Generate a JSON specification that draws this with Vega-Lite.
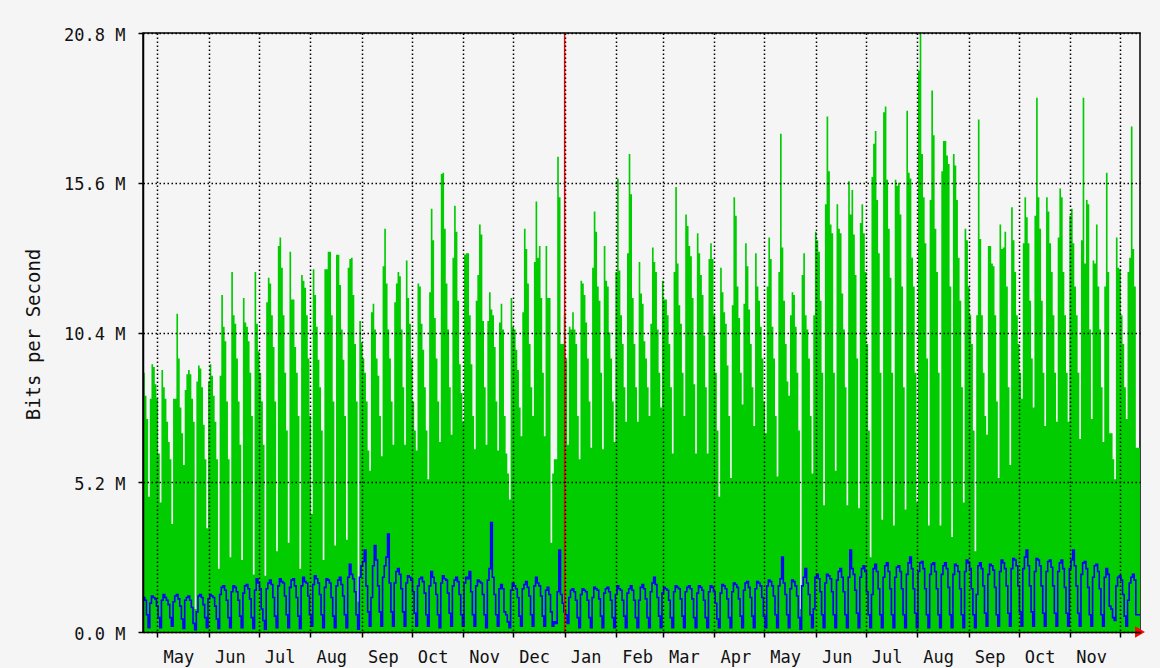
{
"$schema": "https://vega.github.io/schema/vega-lite/v6.json",
"width": 997,
"height": 599,
"autosize": {"type": "none"},
"padding": {"left": 143, "top": 33, "right": 20, "bottom": 36},
"background": "#f5f5f5",
"config": {"view": {"stroke": "#000000", "strokeWidth": 1.5, "fill": "#f5f5f5"}, "font": "DejaVu Sans Mono"},
"data": {"values": [
{"d":"2009-04-22","g":8.8,"b":1.2},
{"d":"2009-04-23","g":9.0,"b":1.2},{"d":"2009-04-24","g":8.2,"b":1.1},{"d":"2009-04-25","g":7.4,"b":0.6},{"d":"2009-04-26","g":4.7,"b":0.15},
{"d":"2009-04-27","g":8.1,"b":1.0},{"d":"2009-04-28","g":9.3,"b":1.25},{"d":"2009-04-29","g":9.2,"b":1.2},{"d":"2009-04-30","g":8.6,"b":1.15},{"d":"2009-05-01","g":8.1,"b":0.9},{"d":"2009-05-02","g":6.2,"b":0.5},{"d":"2009-05-03","g":4.5,"b":0.15},
{"d":"2009-05-04","g":9.1,"b":1.1},{"d":"2009-05-05","g":8.5,"b":1.3},{"d":"2009-05-06","g":8.1,"b":1.2},{"d":"2009-05-07","g":7.3,"b":1.1},{"d":"2009-05-08","g":6.6,"b":0.95},{"d":"2009-05-09","g":6.0,"b":0.5},{"d":"2009-05-10","g":3.75,"b":0.2},
{"d":"2009-05-11","g":8.1,"b":1.05},{"d":"2009-05-12","g":8.1,"b":1.25},{"d":"2009-05-13","g":11.05,"b":1.3},{"d":"2009-05-14","g":9.5,"b":1.15},{"d":"2009-05-15","g":7.8,"b":0.9},{"d":"2009-05-16","g":6.9,"b":0.45},{"d":"2009-05-17","g":5.8,"b":0.12},
{"d":"2009-05-18","g":8.4,"b":1.1},{"d":"2009-05-19","g":8.95,"b":1.2},{"d":"2009-05-20","g":9.1,"b":1.25},{"d":"2009-05-21","g":8.95,"b":1.1},{"d":"2009-05-22","g":8.1,"b":0.85},{"d":"2009-05-23","g":7.3,"b":0.3},{"d":"2009-05-24","g":0.8,"b":0.08},
{"d":"2009-05-25","g":8.7,"b":0.7},{"d":"2009-05-26","g":9.25,"b":1.25},{"d":"2009-05-27","g":9.15,"b":1.3},{"d":"2009-05-28","g":8.5,"b":1.2},{"d":"2009-05-29","g":7.2,"b":0.95},{"d":"2009-05-30","g":6.0,"b":0.5},{"d":"2009-05-31","g":3.6,"b":0.15},
{"d":"2009-06-01","g":8.7,"b":1.15},{"d":"2009-06-02","g":9.3,"b":1.3},{"d":"2009-06-03","g":8.9,"b":1.25},{"d":"2009-06-04","g":8.2,"b":1.2},{"d":"2009-06-05","g":7.3,"b":0.9},{"d":"2009-06-06","g":6.0,"b":0.45},{"d":"2009-06-07","g":2.2,"b":0.12},
{"d":"2009-06-08","g":8.9,"b":1.3},{"d":"2009-06-09","g":11.7,"b":1.55},{"d":"2009-06-10","g":10.6,"b":1.6},{"d":"2009-06-11","g":10.1,"b":1.45},{"d":"2009-06-12","g":8.0,"b":1.1},{"d":"2009-06-13","g":6.0,"b":0.5},{"d":"2009-06-14","g":2.6,"b":0.15},
{"d":"2009-06-15","g":12.5,"b":1.4},{"d":"2009-06-16","g":11.0,"b":1.6},{"d":"2009-06-17","g":10.7,"b":1.55},{"d":"2009-06-18","g":9.5,"b":1.4},{"d":"2009-06-19","g":8.0,"b":1.1},{"d":"2009-06-20","g":6.5,"b":0.55},{"d":"2009-06-21","g":2.5,"b":0.15},
{"d":"2009-06-22","g":11.6,"b":1.35},{"d":"2009-06-23","g":10.75,"b":1.6},{"d":"2009-06-24","g":10.6,"b":1.65},{"d":"2009-06-25","g":10.1,"b":1.5},{"d":"2009-06-26","g":9.0,"b":1.15},{"d":"2009-06-27","g":7.5,"b":0.5},{"d":"2009-06-28","g":2.0,"b":0.12},
{"d":"2009-06-29","g":12.5,"b":1.45},{"d":"2009-06-30","g":10.7,"b":1.85},{"d":"2009-07-01","g":9.75,"b":1.7},{"d":"2009-07-02","g":9.0,"b":1.5},{"d":"2009-07-03","g":8.0,"b":0.8},{"d":"2009-07-04","g":6.5,"b":0.4},{"d":"2009-07-05","g":1.95,"b":0.1},
{"d":"2009-07-06","g":11.45,"b":1.5},{"d":"2009-07-07","g":12.3,"b":1.7},{"d":"2009-07-08","g":12.1,"b":1.8},{"d":"2009-07-09","g":11.0,"b":1.65},{"d":"2009-07-10","g":9.9,"b":1.2},{"d":"2009-07-11","g":8.0,"b":0.55},{"d":"2009-07-12","g":2.8,"b":0.15},
{"d":"2009-07-13","g":13.4,"b":1.6},{"d":"2009-07-14","g":13.7,"b":1.85},{"d":"2009-07-15","g":12.65,"b":1.75},{"d":"2009-07-16","g":11.0,"b":1.7},{"d":"2009-07-17","g":9.0,"b":1.25},{"d":"2009-07-18","g":7.0,"b":0.6},{"d":"2009-07-19","g":3.1,"b":0.15},
{"d":"2009-07-20","g":13.2,"b":1.55},{"d":"2009-07-21","g":11.55,"b":1.8},{"d":"2009-07-22","g":11.55,"b":1.85},{"d":"2009-07-23","g":9.9,"b":1.6},{"d":"2009-07-24","g":9.0,"b":1.2},{"d":"2009-07-25","g":7.5,"b":0.55},{"d":"2009-07-26","g":2.2,"b":0.12},
{"d":"2009-07-27","g":12.4,"b":1.6},{"d":"2009-07-28","g":12.2,"b":1.9},{"d":"2009-07-29","g":11.95,"b":1.75},{"d":"2009-07-30","g":11.0,"b":1.7},{"d":"2009-07-31","g":9.5,"b":1.25},{"d":"2009-08-01","g":7.5,"b":0.6},{"d":"2009-08-02","g":4.1,"b":0.2},
{"d":"2009-08-03","g":12.6,"b":1.65},{"d":"2009-08-04","g":11.7,"b":1.95},{"d":"2009-08-05","g":10.6,"b":1.85},{"d":"2009-08-06","g":9.45,"b":1.7},{"d":"2009-08-07","g":8.5,"b":1.3},{"d":"2009-08-08","g":7.0,"b":0.6},{"d":"2009-08-09","g":2.5,"b":0.15},
{"d":"2009-08-10","g":12.6,"b":1.55},{"d":"2009-08-11","g":12.6,"b":1.85},{"d":"2009-08-12","g":13.2,"b":1.8},{"d":"2009-08-13","g":13.2,"b":1.7},{"d":"2009-08-14","g":11.0,"b":1.2},{"d":"2009-08-15","g":8.0,"b":0.55},{"d":"2009-08-16","g":3.0,"b":0.15},
{"d":"2009-08-17","g":13.1,"b":1.6},{"d":"2009-08-18","g":13.1,"b":1.8},{"d":"2009-08-19","g":12.05,"b":1.9},{"d":"2009-08-20","g":10.5,"b":1.65},{"d":"2009-08-21","g":9.45,"b":1.25},{"d":"2009-08-22","g":7.5,"b":0.6},{"d":"2009-08-23","g":3.2,"b":0.15},
{"d":"2009-08-24","g":12.65,"b":1.9},{"d":"2009-08-25","g":12.95,"b":2.35},{"d":"2009-08-26","g":13.0,"b":2.0},{"d":"2009-08-27","g":11.7,"b":1.85},{"d":"2009-08-28","g":10.0,"b":1.4},{"d":"2009-08-29","g":8.0,"b":0.6},{"d":"2009-08-30","g":1.05,"b":0.1},
{"d":"2009-08-31","g":10.8,"b":1.9},{"d":"2009-09-01","g":10.05,"b":2.3},{"d":"2009-09-02","g":9.5,"b":2.45},{"d":"2009-09-03","g":9.0,"b":2.85},{"d":"2009-09-04","g":8.0,"b":1.6},{"d":"2009-09-05","g":6.3,"b":0.7},{"d":"2009-09-06","g":5.6,"b":0.2},
{"d":"2009-09-07","g":11.1,"b":1.2},{"d":"2009-09-08","g":11.4,"b":2.3},{"d":"2009-09-09","g":10.5,"b":3.0},{"d":"2009-09-10","g":9.5,"b":2.5},{"d":"2009-09-11","g":8.9,"b":1.6},{"d":"2009-09-12","g":7.5,"b":0.7},{"d":"2009-09-13","g":6.1,"b":0.2},
{"d":"2009-09-14","g":12.7,"b":1.9},{"d":"2009-09-15","g":14.0,"b":2.3},{"d":"2009-09-16","g":12.1,"b":2.6},{"d":"2009-09-17","g":10.5,"b":3.4},{"d":"2009-09-18","g":9.5,"b":1.7},{"d":"2009-09-19","g":8.0,"b":0.7},{"d":"2009-09-20","g":6.5,"b":0.2},
{"d":"2009-09-21","g":11.45,"b":1.7},{"d":"2009-09-22","g":12.1,"b":2.1},{"d":"2009-09-23","g":12.5,"b":2.2},{"d":"2009-09-24","g":12.35,"b":2.0},{"d":"2009-09-25","g":10.5,"b":1.5},{"d":"2009-09-26","g":8.5,"b":0.7},{"d":"2009-09-27","g":6.5,"b":0.2},
{"d":"2009-09-28","g":12.9,"b":1.7},{"d":"2009-09-29","g":11.6,"b":1.95},{"d":"2009-09-30","g":10.7,"b":1.9},{"d":"2009-10-01","g":9.5,"b":1.8},{"d":"2009-10-02","g":8.0,"b":1.4},{"d":"2009-10-03","g":7.0,"b":0.65},{"d":"2009-10-04","g":6.3,"b":0.2},
{"d":"2009-10-05","g":12.1,"b":1.6},{"d":"2009-10-06","g":12.0,"b":1.85},{"d":"2009-10-07","g":10.7,"b":1.9},{"d":"2009-10-08","g":9.8,"b":1.75},{"d":"2009-10-09","g":8.5,"b":1.35},{"d":"2009-10-10","g":7.0,"b":0.6},{"d":"2009-10-11","g":5.3,"b":0.2},
{"d":"2009-10-12","g":11.8,"b":1.6},{"d":"2009-10-13","g":14.7,"b":2.1},{"d":"2009-10-14","g":13.6,"b":1.9},{"d":"2009-10-15","g":10.9,"b":1.7},{"d":"2009-10-16","g":9.5,"b":1.3},{"d":"2009-10-17","g":8.0,"b":0.6},{"d":"2009-10-18","g":6.6,"b":0.15},
{"d":"2009-10-19","g":15.9,"b":1.7},{"d":"2009-10-20","g":15.95,"b":1.95},{"d":"2009-10-21","g":14.0,"b":1.85},{"d":"2009-10-22","g":12.1,"b":1.8},{"d":"2009-10-23","g":10.5,"b":1.35},{"d":"2009-10-24","g":8.5,"b":0.65},{"d":"2009-10-25","g":6.85,"b":0.2},
{"d":"2009-10-26","g":13.0,"b":1.6},{"d":"2009-10-27","g":14.8,"b":1.8},{"d":"2009-10-28","g":13.9,"b":1.9},{"d":"2009-10-29","g":11.5,"b":1.75},{"d":"2009-10-30","g":9.3,"b":1.3},{"d":"2009-10-31","g":8.3,"b":0.6},{"d":"2009-11-01","g":7.3,"b":0.2},
{"d":"2009-11-02","g":13.1,"b":1.7},{"d":"2009-11-03","g":13.15,"b":1.9},{"d":"2009-11-04","g":13.15,"b":1.85},{"d":"2009-11-05","g":11.0,"b":2.1},{"d":"2009-11-06","g":9.3,"b":1.4},{"d":"2009-11-07","g":7.5,"b":0.6},{"d":"2009-11-08","g":6.35,"b":0.2},
{"d":"2009-11-09","g":11.5,"b":1.6},{"d":"2009-11-10","g":12.4,"b":1.8},{"d":"2009-11-11","g":14.15,"b":1.75},{"d":"2009-11-12","g":13.8,"b":1.7},{"d":"2009-11-13","g":10.8,"b":1.3},{"d":"2009-11-14","g":8.5,"b":0.6},{"d":"2009-11-15","g":6.5,"b":0.15},
{"d":"2009-11-16","g":10.8,"b":1.8},{"d":"2009-11-17","g":11.8,"b":2.2},{"d":"2009-11-18","g":11.2,"b":3.8},{"d":"2009-11-19","g":11.0,"b":1.9},{"d":"2009-11-20","g":9.9,"b":1.3},{"d":"2009-11-21","g":8.0,"b":0.6},{"d":"2009-11-22","g":6.3,"b":0.2},
{"d":"2009-11-23","g":10.75,"b":1.5},{"d":"2009-11-24","g":11.4,"b":1.65},{"d":"2009-11-25","g":10.5,"b":1.5},{"d":"2009-11-26","g":7.5,"b":0.7},{"d":"2009-11-27","g":6.2,"b":0.6},{"d":"2009-11-28","g":5.5,"b":0.35},{"d":"2009-11-29","g":4.6,"b":0.15},
{"d":"2009-11-30","g":11.6,"b":1.45},{"d":"2009-12-01","g":10.6,"b":1.7},{"d":"2009-12-02","g":10.5,"b":1.6},{"d":"2009-12-03","g":9.8,"b":1.5},{"d":"2009-12-04","g":9.1,"b":1.2},{"d":"2009-12-05","g":7.8,"b":0.55},{"d":"2009-12-06","g":6.8,"b":0.2},
{"d":"2009-12-07","g":11.1,"b":1.5},{"d":"2009-12-08","g":14.0,"b":1.65},{"d":"2009-12-09","g":13.3,"b":1.75},{"d":"2009-12-10","g":12.1,"b":1.55},{"d":"2009-12-11","g":10.0,"b":1.25},{"d":"2009-12-12","g":8.5,"b":0.6},{"d":"2009-12-13","g":7.5,"b":0.2},
{"d":"2009-12-14","g":12.85,"b":1.6},{"d":"2009-12-15","g":14.95,"b":1.9},{"d":"2009-12-16","g":13.0,"b":1.7},{"d":"2009-12-17","g":13.4,"b":1.6},{"d":"2009-12-18","g":11.6,"b":1.25},{"d":"2009-12-19","g":9.0,"b":0.55},{"d":"2009-12-20","g":6.8,"b":0.2},
{"d":"2009-12-21","g":13.4,"b":1.45},{"d":"2009-12-22","g":11.6,"b":1.55},{"d":"2009-12-23","g":11.6,"b":1.3},{"d":"2009-12-24","g":3.1,"b":0.7},{"d":"2009-12-25","g":5.5,"b":0.2},{"d":"2009-12-26","g":6.0,"b":0.35},{"d":"2009-12-27","g":6.0,"b":0.3},
{"d":"2009-12-28","g":16.5,"b":1.4},{"d":"2009-12-29","g":15.1,"b":2.85},{"d":"2009-12-30","g":10.0,"b":1.3},{"d":"2009-12-31","g":10.0,"b":1.0},{"d":"2010-01-01","g":11.0,"b":0.7},{"d":"2010-01-02","g":9.5,"b":0.6},{"d":"2010-01-03","g":6.5,"b":0.3},
{"d":"2010-01-04","g":10.6,"b":1.2},{"d":"2010-01-05","g":10.5,"b":1.45},{"d":"2010-01-06","g":11.1,"b":1.5},{"d":"2010-01-07","g":10.5,"b":1.4},{"d":"2010-01-08","g":10.0,"b":1.1},{"d":"2010-01-09","g":7.5,"b":0.5},{"d":"2010-01-10","g":6.0,"b":0.15},
{"d":"2010-01-11","g":12.2,"b":1.3},{"d":"2010-01-12","g":12.1,"b":1.5},{"d":"2010-01-13","g":11.7,"b":1.45},{"d":"2010-01-14","g":10.75,"b":1.4},{"d":"2010-01-15","g":9.5,"b":1.1},{"d":"2010-01-16","g":8.0,"b":0.5},{"d":"2010-01-17","g":6.4,"b":0.15},
{"d":"2010-01-18","g":12.65,"b":1.2},{"d":"2010-01-19","g":14.6,"b":1.55},{"d":"2010-01-20","g":13.9,"b":1.5},{"d":"2010-01-21","g":12.0,"b":1.45},{"d":"2010-01-22","g":11.5,"b":1.15},{"d":"2010-01-23","g":9.0,"b":0.55},{"d":"2010-01-24","g":6.35,"b":0.15},
{"d":"2010-01-25","g":13.4,"b":1.35},{"d":"2010-01-26","g":12.2,"b":1.5},{"d":"2010-01-27","g":12.0,"b":1.55},{"d":"2010-01-28","g":10.4,"b":1.4},{"d":"2010-01-29","g":9.5,"b":1.1},{"d":"2010-01-30","g":8.0,"b":0.5},{"d":"2010-01-31","g":6.6,"b":0.15},
{"d":"2010-02-01","g":12.5,"b":1.3},{"d":"2010-02-02","g":15.75,"b":1.6},{"d":"2010-02-03","g":12.55,"b":1.5},{"d":"2010-02-04","g":11.0,"b":1.45},{"d":"2010-02-05","g":10.0,"b":1.1},{"d":"2010-02-06","g":8.5,"b":0.55},{"d":"2010-02-07","g":7.3,"b":0.15},
{"d":"2010-02-08","g":13.15,"b":1.35},{"d":"2010-02-09","g":16.6,"b":1.5},{"d":"2010-02-10","g":15.2,"b":1.6},{"d":"2010-02-11","g":11.6,"b":1.45},{"d":"2010-02-12","g":10.0,"b":1.1},{"d":"2010-02-13","g":8.5,"b":0.5},{"d":"2010-02-14","g":7.3,"b":0.15},
{"d":"2010-02-15","g":12.85,"b":1.1},{"d":"2010-02-16","g":11.75,"b":1.55},{"d":"2010-02-17","g":11.4,"b":1.65},{"d":"2010-02-18","g":10.1,"b":1.5},{"d":"2010-02-19","g":9.5,"b":1.15},{"d":"2010-02-20","g":8.5,"b":0.5},{"d":"2010-02-21","g":7.5,"b":0.15},
{"d":"2010-02-22","g":10.7,"b":1.4},{"d":"2010-02-23","g":13.35,"b":1.7},{"d":"2010-02-24","g":12.85,"b":1.9},{"d":"2010-02-25","g":12.5,"b":1.65},{"d":"2010-02-26","g":10.5,"b":1.2},{"d":"2010-02-27","g":9.0,"b":0.55},{"d":"2010-02-28","g":7.8,"b":0.15},
{"d":"2010-03-01","g":12.2,"b":1.35},{"d":"2010-03-02","g":11.55,"b":1.55},{"d":"2010-03-03","g":11.55,"b":1.5},{"d":"2010-03-04","g":11.0,"b":1.45},{"d":"2010-03-05","g":10.0,"b":1.1},{"d":"2010-03-06","g":8.5,"b":0.5},{"d":"2010-03-07","g":6.2,"b":0.15},
{"d":"2010-03-08","g":12.5,"b":1.4},{"d":"2010-03-09","g":15.45,"b":1.6},{"d":"2010-03-10","g":12.8,"b":1.55},{"d":"2010-03-11","g":11.35,"b":1.5},{"d":"2010-03-12","g":10.7,"b":1.15},{"d":"2010-03-13","g":9.0,"b":0.55},{"d":"2010-03-14","g":7.5,"b":0.15},
{"d":"2010-03-15","g":14.5,"b":1.4},{"d":"2010-03-16","g":14.1,"b":1.55},{"d":"2010-03-17","g":13.4,"b":1.6},{"d":"2010-03-18","g":13.05,"b":1.5},{"d":"2010-03-19","g":11.6,"b":1.15},{"d":"2010-03-20","g":8.6,"b":0.5},{"d":"2010-03-21","g":6.2,"b":0.15},
{"d":"2010-03-22","g":13.85,"b":1.35},{"d":"2010-03-23","g":13.15,"b":1.6},{"d":"2010-03-24","g":12.4,"b":1.55},{"d":"2010-03-25","g":11.7,"b":1.45},{"d":"2010-03-26","g":10.3,"b":1.1},{"d":"2010-03-27","g":8.5,"b":0.5},{"d":"2010-03-28","g":6.2,"b":0.15},
{"d":"2010-03-29","g":12.95,"b":1.4},{"d":"2010-03-30","g":13.5,"b":1.6},{"d":"2010-03-31","g":12.95,"b":1.55},{"d":"2010-04-01","g":11.0,"b":1.4},{"d":"2010-04-02","g":9.0,"b":1.0},{"d":"2010-04-03","g":7.0,"b":0.45},{"d":"2010-04-04","g":4.7,"b":0.15},
{"d":"2010-04-05","g":12.65,"b":1.35},{"d":"2010-04-06","g":11.8,"b":1.65},{"d":"2010-04-07","g":11.1,"b":1.6},{"d":"2010-04-08","g":10.7,"b":1.5},{"d":"2010-04-09","g":9.25,"b":1.15},{"d":"2010-04-10","g":7.5,"b":0.5},{"d":"2010-04-11","g":5.35,"b":0.15},
{"d":"2010-04-12","g":11.35,"b":1.4},{"d":"2010-04-13","g":15.1,"b":1.7},{"d":"2010-04-14","g":14.45,"b":1.65},{"d":"2010-04-15","g":12.0,"b":1.55},{"d":"2010-04-16","g":10.9,"b":1.15},{"d":"2010-04-17","g":9.0,"b":0.55},{"d":"2010-04-18","g":7.9,"b":0.15},
{"d":"2010-04-19","g":11.4,"b":1.45},{"d":"2010-04-20","g":13.5,"b":1.7},{"d":"2010-04-21","g":12.7,"b":1.75},{"d":"2010-04-22","g":11.2,"b":1.55},{"d":"2010-04-23","g":10.0,"b":1.2},{"d":"2010-04-24","g":8.5,"b":0.55},{"d":"2010-04-25","g":7.15,"b":0.15},
{"d":"2010-04-26","g":13.15,"b":1.5},{"d":"2010-04-27","g":12.0,"b":1.75},{"d":"2010-04-28","g":11.5,"b":1.7},{"d":"2010-04-29","g":10.6,"b":1.6},{"d":"2010-04-30","g":9.5,"b":1.2},{"d":"2010-05-01","g":8.0,"b":0.55},{"d":"2010-05-02","g":6.9,"b":0.15},
{"d":"2010-05-03","g":12.0,"b":1.6},{"d":"2010-05-04","g":13.7,"b":1.8},{"d":"2010-05-05","g":12.95,"b":1.75},{"d":"2010-05-06","g":10.6,"b":1.6},{"d":"2010-05-07","g":9.5,"b":1.25},{"d":"2010-05-08","g":7.5,"b":0.6},{"d":"2010-05-09","g":5.4,"b":0.15},
{"d":"2010-05-10","g":12.5,"b":1.6},{"d":"2010-05-11","g":17.3,"b":1.85},{"d":"2010-05-12","g":13.35,"b":2.6},{"d":"2010-05-13","g":11.5,"b":1.7},{"d":"2010-05-14","g":10.0,"b":1.3},{"d":"2010-05-15","g":8.7,"b":0.6},{"d":"2010-05-16","g":8.2,"b":0.15},
{"d":"2010-05-17","g":11.0,"b":1.5},{"d":"2010-05-18","g":11.8,"b":1.8},{"d":"2010-05-19","g":11.7,"b":1.75},{"d":"2010-05-20","g":10.6,"b":1.6},{"d":"2010-05-21","g":9.0,"b":1.25},{"d":"2010-05-22","g":7.0,"b":0.5},{"d":"2010-05-23","g":0.8,"b":0.1},
{"d":"2010-05-24","g":12.4,"b":1.6},{"d":"2010-05-25","g":13.15,"b":1.9},{"d":"2010-05-26","g":11.0,"b":2.2},{"d":"2010-05-27","g":10.5,"b":1.7},{"d":"2010-05-28","g":9.5,"b":1.3},{"d":"2010-05-29","g":7.5,"b":0.6},{"d":"2010-05-30","g":5.5,"b":0.15},
{"d":"2010-05-31","g":11.0,"b":0.8},{"d":"2010-06-01","g":13.9,"b":1.9},{"d":"2010-06-02","g":13.6,"b":2.0},{"d":"2010-06-03","g":13.2,"b":1.85},{"d":"2010-06-04","g":11.5,"b":1.4},{"d":"2010-06-05","g":9.0,"b":0.6},{"d":"2010-06-06","g":4.4,"b":0.15},
{"d":"2010-06-07","g":14.85,"b":1.7},{"d":"2010-06-08","g":17.9,"b":2.0},{"d":"2010-06-09","g":16.0,"b":1.95},{"d":"2010-06-10","g":14.15,"b":1.85},{"d":"2010-06-11","g":13.85,"b":1.4},{"d":"2010-06-12","g":9.0,"b":0.6},{"d":"2010-06-13","g":5.6,"b":0.15},
{"d":"2010-06-14","g":14.85,"b":1.8},{"d":"2010-06-15","g":14.0,"b":2.1},{"d":"2010-06-16","g":13.85,"b":2.2},{"d":"2010-06-17","g":11.75,"b":1.9},{"d":"2010-06-18","g":10.5,"b":1.4},{"d":"2010-06-19","g":8.5,"b":0.6},{"d":"2010-06-20","g":4.4,"b":0.15},
{"d":"2010-06-21","g":15.65,"b":1.9},{"d":"2010-06-22","g":14.5,"b":2.85},{"d":"2010-06-23","g":15.35,"b":2.2},{"d":"2010-06-24","g":13.8,"b":2.0},{"d":"2010-06-25","g":12.4,"b":1.45},{"d":"2010-06-26","g":9.5,"b":0.65},{"d":"2010-06-27","g":4.3,"b":0.15},
{"d":"2010-06-28","g":14.2,"b":1.9},{"d":"2010-06-29","g":14.85,"b":2.2},{"d":"2010-06-30","g":13.85,"b":2.3},{"d":"2010-07-01","g":12.5,"b":2.1},{"d":"2010-07-02","g":10.0,"b":1.4},{"d":"2010-07-03","g":7.0,"b":0.6},{"d":"2010-07-04","g":2.6,"b":0.15},
{"d":"2010-07-05","g":15.8,"b":1.3},{"d":"2010-07-06","g":16.95,"b":2.2},{"d":"2010-07-07","g":17.4,"b":2.35},{"d":"2010-07-08","g":15.0,"b":2.1},{"d":"2010-07-09","g":13.15,"b":1.5},{"d":"2010-07-10","g":9.0,"b":0.6},{"d":"2010-07-11","g":3.9,"b":0.15},
{"d":"2010-07-12","g":18.05,"b":1.9},{"d":"2010-07-13","g":18.25,"b":2.3},{"d":"2010-07-14","g":15.7,"b":2.4},{"d":"2010-07-15","g":14.0,"b":2.1},{"d":"2010-07-16","g":12.3,"b":1.5},{"d":"2010-07-17","g":9.0,"b":0.6},{"d":"2010-07-18","g":3.7,"b":0.15},
{"d":"2010-07-19","g":15.7,"b":1.9},{"d":"2010-07-20","g":15.5,"b":2.25},{"d":"2010-07-21","g":15.6,"b":2.3},{"d":"2010-07-22","g":14.5,"b":2.1},{"d":"2010-07-23","g":12.0,"b":1.5},{"d":"2010-07-24","g":8.5,"b":0.6},{"d":"2010-07-25","g":4.25,"b":0.15},
{"d":"2010-07-26","g":18.1,"b":2.0},{"d":"2010-07-27","g":15.95,"b":2.4},{"d":"2010-07-28","g":15.75,"b":2.6},{"d":"2010-07-29","g":13.0,"b":2.2},{"d":"2010-07-30","g":12.0,"b":1.5},{"d":"2010-07-31","g":9.0,"b":0.65},{"d":"2010-08-01","g":4.5,"b":0.15},
{"d":"2010-08-02","g":19.5,"b":2.1},{"d":"2010-08-03","g":20.8,"b":2.4},{"d":"2010-08-04","g":16.6,"b":2.45},{"d":"2010-08-05","g":15.1,"b":2.2},{"d":"2010-08-06","g":13.5,"b":1.5},{"d":"2010-08-07","g":9.5,"b":0.6},{"d":"2010-08-08","g":3.7,"b":0.15},
{"d":"2010-08-09","g":15.0,"b":2.0},{"d":"2010-08-10","g":18.8,"b":2.35},{"d":"2010-08-11","g":17.25,"b":2.4},{"d":"2010-08-12","g":14.0,"b":2.1},{"d":"2010-08-13","g":12.5,"b":1.5},{"d":"2010-08-14","g":9.0,"b":0.6},{"d":"2010-08-15","g":3.7,"b":0.15},
{"d":"2010-08-16","g":16.0,"b":2.0},{"d":"2010-08-17","g":17.05,"b":2.3},{"d":"2010-08-18","g":17.05,"b":2.4},{"d":"2010-08-19","g":16.55,"b":2.2},{"d":"2010-08-20","g":16.25,"b":1.55},{"d":"2010-08-21","g":12.0,"b":0.6},{"d":"2010-08-22","g":3.3,"b":0.15},
{"d":"2010-08-23","g":16.6,"b":2.0},{"d":"2010-08-24","g":16.2,"b":2.35},{"d":"2010-08-25","g":15.0,"b":2.3},{"d":"2010-08-26","g":13.0,"b":2.1},{"d":"2010-08-27","g":11.5,"b":1.5},{"d":"2010-08-28","g":8.5,"b":0.6},{"d":"2010-08-29","g":4.5,"b":0.15},
{"d":"2010-08-30","g":14.0,"b":2.1},{"d":"2010-08-31","g":13.6,"b":2.5},{"d":"2010-09-01","g":12.0,"b":2.4},{"d":"2010-09-02","g":11.0,"b":2.2},{"d":"2010-09-03","g":10.0,"b":1.5},{"d":"2010-09-04","g":7.0,"b":0.6},{"d":"2010-09-05","g":2.8,"b":0.15},
{"d":"2010-09-06","g":11.0,"b":1.3},{"d":"2010-09-07","g":17.8,"b":2.3},{"d":"2010-09-08","g":13.65,"b":2.4},{"d":"2010-09-09","g":11.0,"b":2.2},{"d":"2010-09-10","g":9.0,"b":1.6},{"d":"2010-09-11","g":7.5,"b":0.65},{"d":"2010-09-12","g":6.85,"b":0.2},
{"d":"2010-09-13","g":13.4,"b":2.0},{"d":"2010-09-14","g":13.4,"b":2.35},{"d":"2010-09-15","g":12.8,"b":2.3},{"d":"2010-09-16","g":12.7,"b":2.15},{"d":"2010-09-17","g":11.0,"b":1.55},{"d":"2010-09-18","g":8.0,"b":0.6},{"d":"2010-09-19","g":5.35,"b":0.2},
{"d":"2010-09-20","g":14.15,"b":2.1},{"d":"2010-09-21","g":13.3,"b":2.5},{"d":"2010-09-22","g":13.35,"b":2.4},{"d":"2010-09-23","g":13.9,"b":2.2},{"d":"2010-09-24","g":12.0,"b":1.6},{"d":"2010-09-25","g":8.5,"b":0.65},{"d":"2010-09-26","g":5.8,"b":0.2},
{"d":"2010-09-27","g":14.75,"b":2.2},{"d":"2010-09-28","g":13.6,"b":2.55},{"d":"2010-09-29","g":12.5,"b":2.5},{"d":"2010-09-30","g":11.0,"b":2.3},{"d":"2010-10-01","g":10.0,"b":1.6},{"d":"2010-10-02","g":9.0,"b":0.7},{"d":"2010-10-03","g":8.1,"b":0.2},
{"d":"2010-10-04","g":13.5,"b":2.2},{"d":"2010-10-05","g":15.1,"b":2.6},{"d":"2010-10-06","g":14.4,"b":2.85},{"d":"2010-10-07","g":13.5,"b":2.3},{"d":"2010-10-08","g":11.5,"b":1.6},{"d":"2010-10-09","g":9.5,"b":0.7},{"d":"2010-10-10","g":7.8,"b":0.2},
{"d":"2010-10-11","g":14.45,"b":2.1},{"d":"2010-10-12","g":18.55,"b":2.55},{"d":"2010-10-13","g":15.1,"b":2.5},{"d":"2010-10-14","g":14.0,"b":2.3},{"d":"2010-10-15","g":11.5,"b":1.6},{"d":"2010-10-16","g":9.0,"b":0.65},{"d":"2010-10-17","g":7.15,"b":0.2},
{"d":"2010-10-18","g":15.1,"b":2.1},{"d":"2010-10-19","g":14.6,"b":2.45},{"d":"2010-10-20","g":13.5,"b":2.5},{"d":"2010-10-21","g":12.5,"b":2.25},{"d":"2010-10-22","g":11.0,"b":1.6},{"d":"2010-10-23","g":9.0,"b":0.65},{"d":"2010-10-24","g":7.3,"b":0.2},
{"d":"2010-10-25","g":13.7,"b":2.1},{"d":"2010-10-26","g":15.4,"b":2.4},{"d":"2010-10-27","g":15.1,"b":2.5},{"d":"2010-10-28","g":12.5,"b":2.2},{"d":"2010-10-29","g":11.0,"b":1.55},{"d":"2010-10-30","g":9.0,"b":0.65},{"d":"2010-10-31","g":7.3,"b":0.2},
{"d":"2010-11-01","g":14.45,"b":2.2},{"d":"2010-11-02","g":14.7,"b":2.5},{"d":"2010-11-03","g":13.5,"b":2.85},{"d":"2010-11-04","g":12.0,"b":2.3},{"d":"2010-11-05","g":11.0,"b":1.6},{"d":"2010-11-06","g":9.0,"b":0.65},{"d":"2010-11-07","g":6.7,"b":0.2},
{"d":"2010-11-08","g":13.6,"b":2.0},{"d":"2010-11-09","g":18.55,"b":2.4},{"d":"2010-11-10","g":12.8,"b":2.45},{"d":"2010-11-11","g":15.0,"b":2.2},{"d":"2010-11-12","g":14.85,"b":1.55},{"d":"2010-11-13","g":10.5,"b":0.6},{"d":"2010-11-14","g":7.4,"b":0.2},
{"d":"2010-11-15","g":12.9,"b":1.9},{"d":"2010-11-16","g":12.8,"b":2.3},{"d":"2010-11-17","g":14.15,"b":2.35},{"d":"2010-11-18","g":12.0,"b":2.1},{"d":"2010-11-19","g":10.5,"b":1.5},{"d":"2010-11-20","g":8.5,"b":0.6},{"d":"2010-11-21","g":6.6,"b":0.2},
{"d":"2010-11-22","g":12.0,"b":1.9},{"d":"2010-11-23","g":15.95,"b":2.2},{"d":"2010-11-24","g":12.5,"b":2.0},{"d":"2010-11-25","g":6.9,"b":0.9},{"d":"2010-11-26","g":6.9,"b":0.8},{"d":"2010-11-27","g":6.0,"b":0.5},{"d":"2010-11-28","g":5.3,"b":0.4},
{"d":"2010-11-29","g":13.7,"b":1.6},{"d":"2010-11-30","g":12.65,"b":1.9},{"d":"2010-12-01","g":12.6,"b":1.95},{"d":"2010-12-02","g":11.0,"b":1.8},{"d":"2010-12-03","g":10.0,"b":1.3},{"d":"2010-12-04","g":8.5,"b":0.55},{"d":"2010-12-05","g":7.4,"b":0.2},
{"d":"2010-12-06","g":12.5,"b":1.1},{"d":"2010-12-07","g":13.0,"b":1.7},{"d":"2010-12-08","g":17.55,"b":1.9},{"d":"2010-12-09","g":13.3,"b":2.0},{"d":"2010-12-10","g":12.0,"b":1.8},{"d":"2010-12-11","g":6.4,"b":0.6},{"d":"2010-12-12","g":6.4,"b":0.6},{"d":"2010-12-13","g":6.4,"b":0.6}
]},
"encoding": {
  "x": {
    "field": "d", "type": "temporal",
    "scale": {"type": "utc", "domain": [{"year": 2009, "month": 4, "date": 22, "hours": 10, "utc": true}, {"year": 2010, "month": 12, "date": 13, "utc": true}]},
    "axis": {
      "title": null,
      "values": [
        {"year": 2009, "month": 5, "date": 1, "utc": true}, {"year": 2009, "month": 6, "date": 1, "utc": true},
        {"year": 2009, "month": 7, "date": 1, "utc": true}, {"year": 2009, "month": 8, "date": 1, "utc": true},
        {"year": 2009, "month": 9, "date": 1, "utc": true}, {"year": 2009, "month": 10, "date": 1, "utc": true},
        {"year": 2009, "month": 11, "date": 1, "utc": true}, {"year": 2009, "month": 12, "date": 1, "utc": true},
        {"year": 2010, "month": 1, "date": 1, "utc": true}, {"year": 2010, "month": 2, "date": 1, "utc": true},
        {"year": 2010, "month": 3, "date": 1, "utc": true}, {"year": 2010, "month": 4, "date": 1, "utc": true},
        {"year": 2010, "month": 5, "date": 1, "utc": true}, {"year": 2010, "month": 6, "date": 1, "utc": true},
        {"year": 2010, "month": 7, "date": 1, "utc": true}, {"year": 2010, "month": 8, "date": 1, "utc": true},
        {"year": 2010, "month": 9, "date": 1, "utc": true}, {"year": 2010, "month": 10, "date": 1, "utc": true},
        {"year": 2010, "month": 11, "date": 1, "utc": true}, {"year": 2010, "month": 12, "date": 1, "utc": true}
      ],
      "labelExpr": "datum.value >= utc(2010, 10, 20) ? '' : utcFormat(datum.value, '%b')",
      "grid": true, "gridColor": "#000000", "gridDash": [1.5, 2.5], "gridWidth": 1.5, "gridOpacity": 1,
      "tickSize": 5, "tickColor": "#000000", "tickWidth": 1.5,
      "domainColor": "#000000", "domainWidth": 1.5,
      "labelAlign": "center", "labelOffset": 21, "labelBaseline": "alphabetic", "labelPadding": 25,
      "labelFont": "DejaVu Sans Mono", "labelFontSize": 17, "labelColor": "#111111",
      "labelFlush": false, "labelOverlap": false, "labelBound": false,
      "zindex": 1
    }
  }
},
"layer": [
  {
    "mark": {"type": "area", "interpolate": "step", "color": "#00cc00", "opacity": 1, "clip": true},
    "encoding": {
      "y": {
        "field": "g", "type": "quantitative",
        "scale": {"domain": [0, 20.8], "nice": false, "zero": true},
        "axis": {
          "values": [0, 5.2, 10.4, 15.6, 20.8],
          "labelExpr": "format(datum.value, '.1f') + ' M'",
          "grid": true, "gridColor": "#000000", "gridDash": [1.5, 2.5], "gridWidth": 1.5, "gridOpacity": 1,
          "tickSize": 5, "tickColor": "#000000", "tickWidth": 1.5,
          "domainColor": "#000000", "domainWidth": 1.5,
          "labelPadding": 13, "labelOffset": 2,
          "labelFont": "DejaVu Sans Mono", "labelFontSize": 17, "labelColor": "#111111",
          "labelFlush": false, "labelOverlap": false,
          "title": "Bits per Second",
          "titleFont": "DejaVu Sans Mono", "titleFontSize": 19, "titleFontWeight": "normal", "titleColor": "#111111",
          "titleAngle": -90, "titleX": -110, "titleY": 301, "titleAlign": "center", "titleBaseline": "middle",
          "zindex": 1
        }
      }
    }
  },
  {
    "mark": {"type": "line", "interpolate": "step", "color": "#0000ff", "strokeWidth": 1.6, "clip": true},
    "encoding": {"y": {"field": "b", "type": "quantitative"}}
  },
  {
    "data": {"values": [{"d": "2010-01-01"}]},
    "mark": {"type": "rule", "color": "#ff0000", "strokeWidth": 1.5},
    "encoding": {}
  },
  {
    "data": {"values": [{"d": "2010-12-13", "v": 0}]},
    "mark": {"type": "point", "shape": "triangle-right", "filled": true, "color": "#ff0000", "size": 130, "opacity": 1},
    "encoding": {"y": {"field": "v", "type": "quantitative"}}
  }
]
}
